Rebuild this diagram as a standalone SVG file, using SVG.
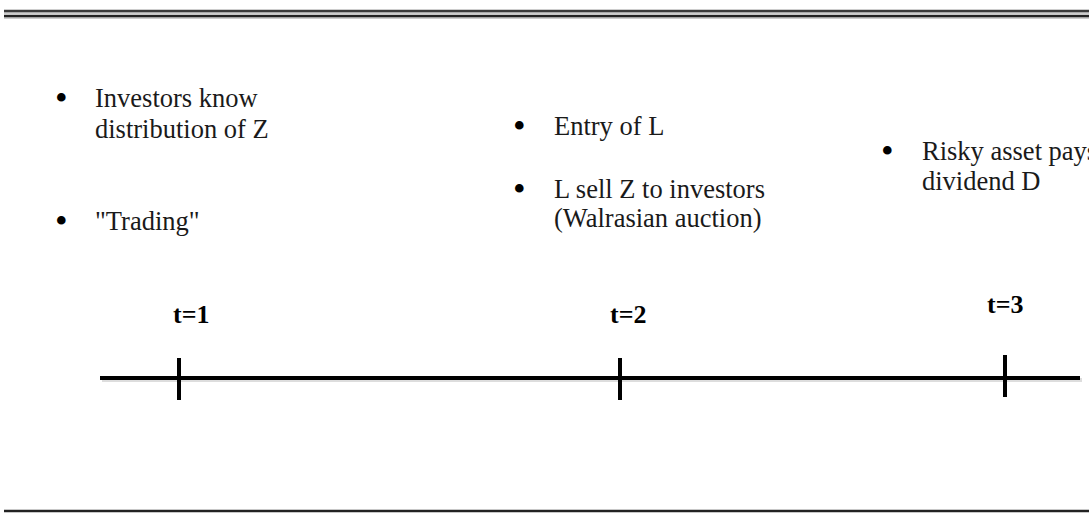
<svg xmlns="http://www.w3.org/2000/svg" width="1089" height="513" viewBox="0 0 1089 513">
<style>
.t{font-family:"Liberation Serif","Times New Roman",serif;font-size:26.5px;fill:#1a1a1a}
.u{font-family:"Liberation Serif","Times New Roman",serif;font-size:36px;fill:#000}
.b{font-family:"Liberation Serif","Times New Roman",serif;font-size:26px;font-weight:bold;fill:#000}
.ax{stroke:#000;stroke-width:4;fill:none}
.sh{stroke:#bbb;stroke-width:4;fill:none;opacity:0.5}
</style>
<rect width="1089" height="513" fill="#fff"/>
<g id="frame">
<line x1="4" y1="13" x2="1089" y2="13" stroke="#ccc" stroke-width="2"/>
<line x1="4" y1="18" x2="1089" y2="18" stroke="#ccc" stroke-width="2"/>
<line x1="4" y1="11" x2="1089" y2="11" stroke="#3a3a3a" stroke-width="2.5"/>
<line x1="4" y1="16" x2="1089" y2="16" stroke="#222" stroke-width="2.5"/>
<line x1="4" y1="511" x2="1089" y2="511" stroke="#222" stroke-width="2.5"/>
</g>
<g id="connectors">
<line class="sh" x1="102" y1="380" x2="1082" y2="380"/>
<line class="ax" x1="100" y1="378" x2="1080" y2="378"/>
<line class="ax" x1="179" y1="358" x2="179" y2="400"/>
<line class="ax" x1="620" y1="358" x2="620" y2="400"/>
<line class="ax" x1="1005" y1="355" x2="1005" y2="397"/>
</g>
<g id="t1">
<text class="b" x="173" y="323">t=1</text>
<text class="u" x="55" y="110">•</text>
<text class="t" x="95" y="107">Investors know</text>
<text class="t" x="95" y="138">distribution of Z</text>
<text class="u" x="55" y="233">•</text>
<text class="t" x="95" y="230">"Trading"</text>
</g>
<g id="t2">
<text class="b" x="610" y="323">t=2</text>
<text class="u" x="513" y="138">•</text>
<text class="t" x="554" y="135">Entry of L</text>
<text class="u" x="513" y="201">•</text>
<text class="t" x="554" y="198">L sell Z to investors</text>
<text class="t" x="554" y="227">(Walrasian auction)</text>
</g>
<g id="t3">
<text class="b" x="987" y="313">t=3</text>
<text class="u" x="881" y="163">•</text>
<text class="t" x="922" y="160">Risky asset pays</text>
<text class="t" x="922" y="190">dividend D</text>
</g>
</svg>
